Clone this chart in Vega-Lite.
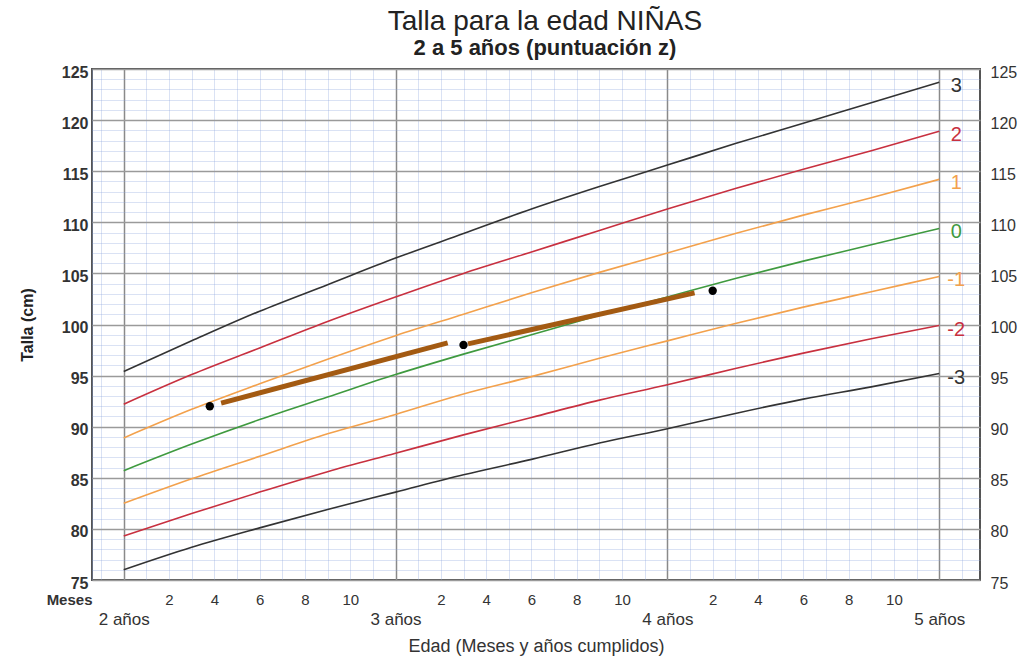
{
  "$schema": "https://vega.github.io/schema/vega-lite/v6.json",
  "width": 888,
  "height": 511,
  "autosize": {"type": "none"},
  "padding": {"left": 92, "top": 69, "right": 41, "bottom": 81},
  "background": "white",
  "title": {
    "text": "Talla para la edad NIÑAS",
    "subtitle": "2 a 5 años (puntuación z)",
    "font": "Liberation Sans",
    "fontSize": 28,
    "fontWeight": "normal",
    "color": "#222",
    "subtitleFont": "Liberation Sans",
    "subtitleFontSize": 22,
    "subtitleFontWeight": "bold",
    "subtitleColor": "#222",
    "subtitlePadding": 2,
    "anchor": "middle",
    "dx": 9,
    "offset": 5
  },
  "config": {
    "view": {"stroke": "#555", "strokeWidth": 2},
    "axis": {"labelFont": "Liberation Sans", "titleFont": "Liberation Sans", "labelColor": "#333", "titleColor": "#333"}
  },
  "datasets": {
    "curves": [
      {"m": 24, "z": "3", "h": 95.4}, {"m": 27, "z": "3", "h": 98.4}, {"m": 30, "z": "3", "h": 101.3}, {"m": 33, "z": "3", "h": 103.9}, {"m": 36, "z": "3", "h": 106.5}, {"m": 39, "z": "3", "h": 108.9}, {"m": 42, "z": "3", "h": 111.3}, {"m": 45, "z": "3", "h": 113.5}, {"m": 48, "z": "3", "h": 115.6}, {"m": 51, "z": "3", "h": 117.7}, {"m": 54, "z": "3", "h": 119.7}, {"m": 57, "z": "3", "h": 121.7}, {"m": 60, "z": "3", "h": 123.7},
      {"m": 24, "z": "2", "h": 92.2}, {"m": 27, "z": "2", "h": 95.1}, {"m": 30, "z": "2", "h": 97.7}, {"m": 33, "z": "2", "h": 100.3}, {"m": 36, "z": "2", "h": 102.7}, {"m": 39, "z": "2", "h": 105.0}, {"m": 42, "z": "2", "h": 107.1}, {"m": 45, "z": "2", "h": 109.2}, {"m": 48, "z": "2", "h": 111.3}, {"m": 51, "z": "2", "h": 113.3}, {"m": 54, "z": "2", "h": 115.2}, {"m": 57, "z": "2", "h": 117.0}, {"m": 60, "z": "2", "h": 118.9},
      {"m": 24, "z": "1", "h": 88.9}, {"m": 27, "z": "1", "h": 91.7}, {"m": 30, "z": "1", "h": 94.2}, {"m": 33, "z": "1", "h": 96.6}, {"m": 36, "z": "1", "h": 98.9}, {"m": 39, "z": "1", "h": 101.0}, {"m": 42, "z": "1", "h": 103.1}, {"m": 45, "z": "1", "h": 105.1}, {"m": 48, "z": "1", "h": 107.0}, {"m": 51, "z": "1", "h": 108.9}, {"m": 54, "z": "1", "h": 110.7}, {"m": 57, "z": "1", "h": 112.4}, {"m": 60, "z": "1", "h": 114.2},
      {"m": 24, "z": "0", "h": 85.7}, {"m": 27, "z": "0", "h": 88.3}, {"m": 30, "z": "0", "h": 90.7}, {"m": 33, "z": "0", "h": 92.9}, {"m": 36, "z": "0", "h": 95.1}, {"m": 39, "z": "0", "h": 97.1}, {"m": 42, "z": "0", "h": 99.0}, {"m": 45, "z": "0", "h": 100.9}, {"m": 48, "z": "0", "h": 102.7}, {"m": 51, "z": "0", "h": 104.5}, {"m": 54, "z": "0", "h": 106.2}, {"m": 57, "z": "0", "h": 107.8}, {"m": 60, "z": "0", "h": 109.4},
      {"m": 24, "z": "-1", "h": 82.5}, {"m": 27, "z": "-1", "h": 84.9}, {"m": 30, "z": "-1", "h": 87.1}, {"m": 33, "z": "-1", "h": 89.3}, {"m": 36, "z": "-1", "h": 91.2}, {"m": 39, "z": "-1", "h": 93.2}, {"m": 42, "z": "-1", "h": 94.9}, {"m": 45, "z": "-1", "h": 96.7}, {"m": 48, "z": "-1", "h": 98.4}, {"m": 51, "z": "-1", "h": 100.1}, {"m": 54, "z": "-1", "h": 101.7}, {"m": 57, "z": "-1", "h": 103.2}, {"m": 60, "z": "-1", "h": 104.7},
      {"m": 24, "z": "-2", "h": 79.3}, {"m": 27, "z": "-2", "h": 81.5}, {"m": 30, "z": "-2", "h": 83.6}, {"m": 33, "z": "-2", "h": 85.6}, {"m": 36, "z": "-2", "h": 87.4}, {"m": 39, "z": "-2", "h": 89.2}, {"m": 42, "z": "-2", "h": 90.9}, {"m": 45, "z": "-2", "h": 92.6}, {"m": 48, "z": "-2", "h": 94.1}, {"m": 51, "z": "-2", "h": 95.7}, {"m": 54, "z": "-2", "h": 97.2}, {"m": 57, "z": "-2", "h": 98.6}, {"m": 60, "z": "-2", "h": 99.9},
      {"m": 24, "z": "-3", "h": 76.0}, {"m": 27, "z": "-3", "h": 78.2}, {"m": 30, "z": "-3", "h": 80.1}, {"m": 33, "z": "-3", "h": 81.9}, {"m": 36, "z": "-3", "h": 83.6}, {"m": 39, "z": "-3", "h": 85.3}, {"m": 42, "z": "-3", "h": 86.8}, {"m": 45, "z": "-3", "h": 88.4}, {"m": 48, "z": "-3", "h": 89.8}, {"m": 51, "z": "-3", "h": 91.3}, {"m": 54, "z": "-3", "h": 92.7}, {"m": 57, "z": "-3", "h": 93.9}, {"m": 60, "z": "-3", "h": 95.2}
    ],
    "segments": [
      {"m1": 28.3, "h1": 92.3, "m2": 38.3, "h2": 98.2},
      {"m1": 39.2, "h1": 98.1, "m2": 49.2, "h2": 103.1}
    ],
    "points": [
      {"m": 27.8, "h": 92.0},
      {"m": 39.0, "h": 98.0},
      {"m": 50.0, "h": 103.3}
    ]
  },
  "layer": [
    {
      "data": {"name": "curves"},
      "mark": {"type": "line", "strokeWidth": 1.6, "interpolate": "monotone"},
      "encoding": {
        "x": {
          "field": "m", "type": "quantitative",
          "scale": {"domain": [22.6, 61.8], "nice": false, "zero": false},
          "axis": {
            "orient": "bottom",
            "values": [22.6, 23, 24, 25, 26, 27, 28, 29, 30, 31, 32, 33, 34, 35, 36, 37, 38, 39, 40, 41, 42, 43, 44, 45, 46, 47, 48, 49, 50, 51, 52, 53, 54, 55, 56, 57, 58, 59, 60, 61],
            "labelExpr": "datum.value < 23 ? 'Meses' : ((datum.value % 12) > 0 && (datum.value % 12) % 2 == 0 ? '' + (datum.value % 12) : '')",
            "labelAlign": {"condition": {"test": "datum.value < 23", "value": "right"}, "value": "center"},
            "labelFontWeight": {"condition": {"test": "datum.value < 23", "value": "bold"}, "value": "normal"},
            "labelFontSize": 15,
            "labelPadding": 12,
            "labelOverlap": false,
            "labelFlush": false,
            "ticks": false,
            "domain": false,
            "grid": true,
            "gridColor": {"condition": {"test": "datum.value % 12 == 0", "value": "#8a8a8a"}, "value": "rgba(140,165,220,0.32)"},
            "gridWidth": {"condition": {"test": "datum.value % 12 == 0", "value": 1.5}, "value": 1},
            "title": null
          }
        },
        "y": {
          "field": "h", "type": "quantitative",
          "scale": {"domain": [75, 125], "nice": false, "zero": false},
          "axis": {
            "orient": "left",
            "values": [75, 76, 77, 78, 79, 80, 81, 82, 83, 84, 85, 86, 87, 88, 89, 90, 91, 92, 93, 94, 95, 96, 97, 98, 99, 100, 101, 102, 103, 104, 105, 106, 107, 108, 109, 110, 111, 112, 113, 114, 115, 116, 117, 118, 119, 120, 121, 122, 123, 124, 125],
            "labelExpr": "datum.value % 5 == 0 ? datum.label : ''",
            "labelFontSize": 16,
            "labelFontWeight": "bold",
            "labelPadding": 4,
            "labelOffset": 3,
            "labelOverlap": false,
            "labelFlush": false,
            "ticks": false,
            "domain": false,
            "grid": true,
            "gridColor": {"condition": {"test": "datum.value % 5 == 0", "value": "#9a9a9a"}, "value": "rgba(140,165,220,0.32)"},
            "gridWidth": {"condition": {"test": "datum.value % 5 == 0", "value": 1.5}, "value": 1},
            "title": "Talla (cm)",
            "titleFontSize": 16,
            "titleFontWeight": "bold",
            "titleColor": "#222",
            "titlePadding": 26
          }
        },
        "color": {
          "field": "z", "type": "nominal",
          "scale": {"domain": ["3", "2", "1", "0", "-1", "-2", "-3"], "range": ["#333333", "#c8303f", "#f3a14c", "#3f9a3f", "#f3a14c", "#c8303f", "#333333"]},
          "legend": null
        }
      }
    },
    {
      "data": {"name": "curves"},
      "transform": [{"filter": "datum.m == 60"}],
      "mark": {"type": "text", "fontSize": 20, "font": "Liberation Sans", "align": "center", "baseline": "middle", "dx": 17, "dy": 4},
      "encoding": {
        "x": {
          "field": "m", "type": "quantitative",
          "axis": {
            "orient": "bottom",
            "values": [24, 36, 48, 60],
            "labelExpr": "floor(datum.value / 12) + ' años'",
            "labelFontSize": 17,
            "labelPadding": 31,
            "labelFlush": false,
            "labelOverlap": false,
            "ticks": false,
            "domain": false,
            "grid": false,
            "title": "Edad (Meses y años cumplidos)",
            "titleFontSize": 18,
            "titleFontWeight": "normal",
            "titlePadding": 10
          }
        },
        "y": {
          "field": "h", "type": "quantitative",
          "axis": {
            "orient": "right",
            "values": [75, 80, 85, 90, 95, 100, 105, 110, 115, 120, 125],
            "labelFontSize": 16,
            "labelPadding": 10,
            "labelOffset": 3,
            "labelOverlap": false,
            "labelFlush": false,
            "ticks": false,
            "domain": false,
            "grid": false,
            "title": null
          }
        },
        "text": {"field": "z"},
        "color": {"field": "z", "type": "nominal", "legend": null}
      }
    },
    {
      "data": {"name": "segments"},
      "mark": {"type": "rule", "color": "#a35a12", "strokeWidth": 5, "strokeCap": "butt"},
      "encoding": {
        "x": {"field": "m1", "type": "quantitative", "axis": null},
        "x2": {"field": "m2"},
        "y": {"field": "h1", "type": "quantitative", "axis": null},
        "y2": {"field": "h2"}
      }
    },
    {
      "data": {"name": "points"},
      "mark": {"type": "circle", "color": "#000", "opacity": 1, "size": 70},
      "encoding": {
        "x": {"field": "m", "type": "quantitative", "axis": null},
        "y": {"field": "h", "type": "quantitative", "axis": null}
      }
    }
  ],
  "resolve": {"axis": {"x": "independent", "y": "independent"}}
}
